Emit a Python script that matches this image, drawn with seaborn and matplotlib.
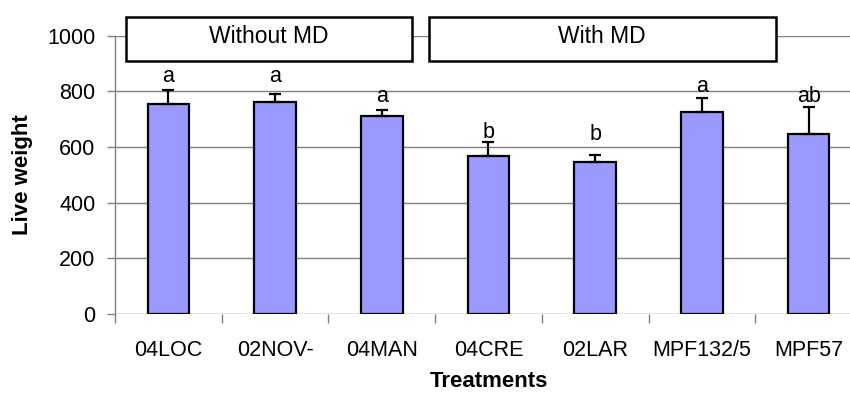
import matplotlib
matplotlib.use("Agg")
import matplotlib.pyplot as plt
from matplotlib.patches import Rectangle
import seaborn as sns
import pandas as pd
import numpy as np

# Treatment means, standard errors and significance letters
treatments = ["04LOC", "02NOV-", "04MAN", "04CRE", "02LAR", "MPF132/5", "MPF57"]
live_weight = [755, 762, 710, 567, 545, 725, 645]
std_error = [50, 28, 22, 50, 28, 50, 100]
letters = ["a", "a", "a", "b", "b", "a", "ab"]
letter_y = [835, 835, 760, 634, 624, 796, 760]

# Group headers: (label, first treatment index, last treatment index)
groups = [("Without MD", 0, 2), ("With MD", 3, 6)]

df = pd.DataFrame({"Treatments": treatments, "Live weight": live_weight})

sns.set_theme(style="white")
plt.rcParams["font.family"] = ["Liberation Sans", "DejaVu Sans"]

fig = plt.figure(figsize=(8.5, 3.94), dpi=100)
W, H = 850, 394
ax = fig.add_axes([115 / W, (H - 314) / H, 747 / W, (314 - 35.7) / H])

grey = "#808080"
bar_color = "#9999FF"
fs = 15.5

sns.barplot(data=df, x="Treatments", y="Live weight", color=bar_color,
            width=0.39, edgecolor="black", linewidth=1.6, errorbar=None,
            saturation=1, ax=ax, zorder=3)

xpos = np.arange(len(treatments))
ax.errorbar(xpos, live_weight, yerr=[np.zeros(len(std_error)), std_error],
            fmt="none", ecolor="black", elinewidth=1.6, capsize=4.4,
            capthick=1.6, zorder=4)

for x, y, s in zip(xpos, letter_y, letters):
    ax.text(x, y, s, ha="center", va="baseline", fontsize=fs, color="black",
            zorder=5)

ax.set_xlim(-0.5, len(treatments) - 0.5)
ax.set_ylim(0, 1000)
ax.set_yticks([0, 200, 400, 600, 800, 1000])
ax.grid(axis="y", color=grey, linewidth=1.0, zorder=0)
ax.set_axisbelow(True)

for side in ["top", "right", "bottom"]:
    ax.spines[side].set_visible(False)
ax.spines["left"].set_color(grey)
ax.spines["left"].set_linewidth(1.0)

# category boundary ticks on the x axis, labels at the centres
ax.set_xticks(np.arange(-0.5, len(treatments) + 0.5, 1.0), minor=False)
ax.set_xticklabels([""] * (len(treatments) + 1))
ax.set_xticks(xpos, minor=True)
ax.set_xticklabels(treatments, minor=True)
ax.tick_params(axis="x", which="major", direction="out", length=6.5,
               width=1.0, color=grey, bottom=True)
ax.tick_params(axis="x", which="minor", length=0, pad=19, labelsize=fs,
               labelcolor="black")
ax.tick_params(axis="y", direction="out", length=6, width=1.0, color=grey,
               left=True, pad=8, labelsize=fs, labelcolor="black")

ax.set_xlabel("Treatments", fontsize=16, fontweight="bold", color="black")
ax.xaxis.label.set_va("bottom")
ax.xaxis.set_label_coords(0.5, (314 - 392) / (314 - 35.7))
ax.set_ylabel("Live weight", fontsize=16, fontweight="bold", labelpad=10,
              color="black")

# group header boxes drawn above the plotting area
box_lo, box_hi = 909.5, 1067
for label, i0, i1 in groups:
    x0 = i0 - 0.4 if i0 == 0 else i0 - 0.56
    x1 = i1 + 0.28 if i1 < len(treatments) - 1 else i1 - 0.31
    rect = Rectangle((x0, box_lo), x1 - x0, box_hi - box_lo,
                     facecolor="white", edgecolor="black", linewidth=1.8,
                     clip_on=False, zorder=6)
    ax.add_patch(rect)
    ax.text((x0 + x1) / 2, 974, label, ha="center", va="baseline",
            fontsize=16.5, color="black", zorder=7, clip_on=False)

fig.savefig("out.png", dpi=100)
